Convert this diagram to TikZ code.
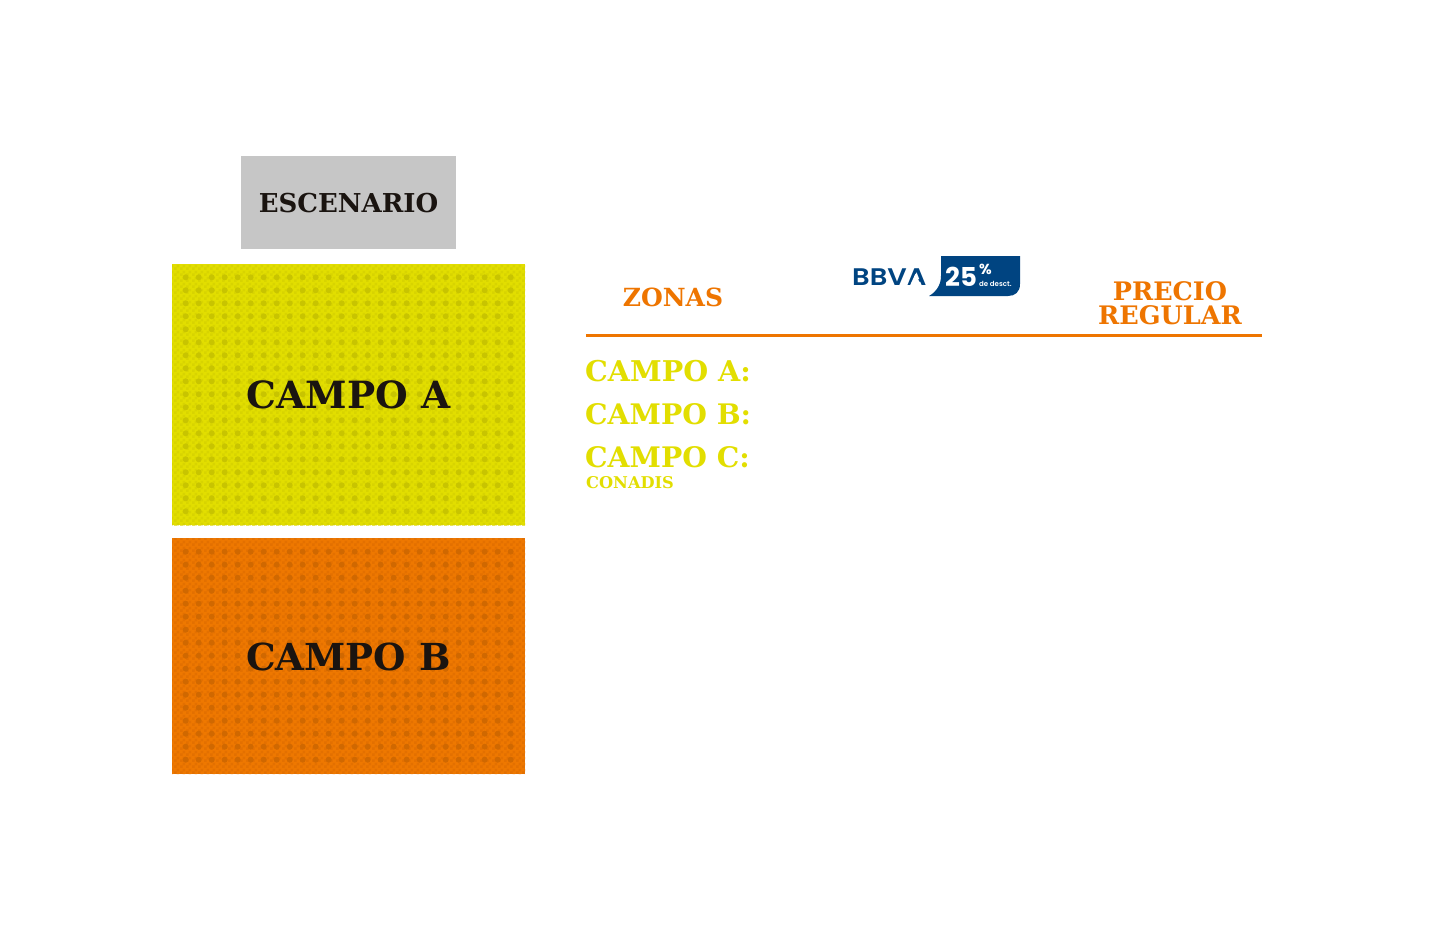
\documentclass[tikz,border=0pt]{standalone}
\usepackage{fontspec}
\usetikzlibrary{patterns}
\setmainfont{DejaVu Serif}[BoldFont={DejaVu Serif Bold}]
\newfontfamily\logofont{Poppins}[BoldFont={Poppins SemiBold}]
\newfontfamily\logoheavy{Poppins}[BoldFont={Poppins Bold}]
\definecolor{cyel}{HTML}{E2DE00}
\definecolor{cyeld}{HTML}{C8C400}
\definecolor{cyelt}{HTML}{D8D400}
\definecolor{corg}{HTML}{EE7800}
\definecolor{corgd}{HTML}{D06800}
\definecolor{corgt}{HTML}{E37000}
\definecolor{ctxt}{HTML}{EE7500}
\definecolor{cdark}{HTML}{1A1410}
\definecolor{cgrey}{HTML}{C6C6C6}
\definecolor{cblue}{HTML}{004481}
\pgfdeclarepatternformonly{fineweave}{\pgfqpoint{0pt}{0pt}}{\pgfqpoint{6pt}{6pt}}{\pgfqpoint{6pt}{6pt}}{%
  \pgfpathrectangle{\pgfqpoint{0pt}{0pt}}{\pgfqpoint{3pt}{3pt}}%
  \pgfpathrectangle{\pgfqpoint{3pt}{3pt}}{\pgfqpoint{3pt}{3pt}}%
  \pgfusepath{fill}}
\tikzset{
 zonebox/.style={inner sep=0pt,outer sep=0pt,anchor=north west},
 maplabel/.style={text=cdark,inner sep=0pt},
 rowlabel/.style={text=cyel,inner sep=0pt,anchor=base west},
 headlabel/.style={text=ctxt,inner sep=0pt,align=center},
 logotext/.style={inner sep=0pt,anchor=base west},
}
\begin{document}
\begin{tikzpicture}[x=1pt,y=-1pt]
\useasboundingbox[fill=white] (0,0) rectangle (1440,936);
% stage
\node[zonebox,fill=cgrey,minimum width=215pt,minimum height=93pt] (stage) at (241,156) {};
\node[maplabel,font=\bfseries\fontsize{26}{26}\selectfont] (stagelabel) at (348.5,203) {ESCENARIO};
% campo A
\node[zonebox,fill=cyel,minimum width=353pt,minimum height=261pt] (zonea) at (172,264) {};
\fill[pattern=fineweave,pattern color=cyelt] (172,264) rectangle (525,525);
\foreach \x in {0,...,25}\foreach \y in {0,...,18}{\fill[cyeld] ({185.7+13*\x},{277.3+13*\y}) circle (3);}
\node[maplabel,font=\bfseries\fontsize{37.5}{38}\selectfont] (labela) at (348.5,395) {CAMPO A};
% campo B
\node[zonebox,fill=corg,minimum width=353pt,minimum height=236pt] (zoneb) at (172,538) {};
\fill[pattern=fineweave,pattern color=corgt] (172,538) rectangle (525,774);
\foreach \x in {0,...,25}\foreach \y in {0,...,16}{\fill[corgd] ({185.7+13*\x},{551.7+13*\y}) circle (3);}
\node[maplabel,font=\bfseries\fontsize{37.2}{38}\selectfont] (labelb) at (348.5,656.5) {CAMPO B};
% header
\node[headlabel,font=\bfseries\fontsize{25}{25}\selectfont] (zonas) at (673,297.5) {ZONAS};
\node[headlabel,font=\bfseries\fontsize{25.5}{24}\selectfont] (precio) at (1170,303) {PRECIO\\REGULAR};
\coordinate (rulea) at (586,335.6);
\coordinate (ruleb) at (1262,335.6);
\draw[ctxt,line width=3.2pt] (rulea) -- (ruleb);
% rows
\node[rowlabel,font=\bfseries\fontsize{28.6}{30}\selectfont] (rowa) at (585,381) {CAMPO A:};
\node[rowlabel,font=\bfseries\fontsize{28.3}{30}\selectfont] (rowb) at (585,424) {CAMPO B:};
\node[rowlabel,font=\bfseries\fontsize{28.3}{30}\selectfont] (rowc) at (585,467) {CAMPO C:};
\node[rowlabel,font=\bfseries\fontsize{16.2}{17}\selectfont] (rowd) at (586,488) {CONADIS};
% logo
\node[logotext,text=cblue,font=\logofont\bfseries\fontsize{24}{24}\selectfont,transform shape,xscale=1.14] (bbva) at (852,285.5) {BBVA};
\fill[white] (915.5,273.5) -- (909.5,286.5) -- (921.5,286.5) -- cycle;
\fill[cblue] (941,256) -- (1020,256) -- (1020,284) .. controls (1020,292) and (1015,296) .. (1008,296) -- (929,296) .. controls (936,292) and (941,285) .. (941,276) -- cycle;
\node[logotext,text=white,font=\logoheavy\bfseries\fontsize{26}{26}\selectfont] (pct) at (945,286.5) {25};
\node[inner sep=0pt,anchor=north west,align=left,text=white,font=\logofont\bfseries] (sym) at (979,263.5) {{\logoheavy\bfseries\fontsize{14.5}{8}\selectfont\%}\\{\fontsize{7}{8}\selectfont de desct.}};
\end{tikzpicture}
\end{document}
